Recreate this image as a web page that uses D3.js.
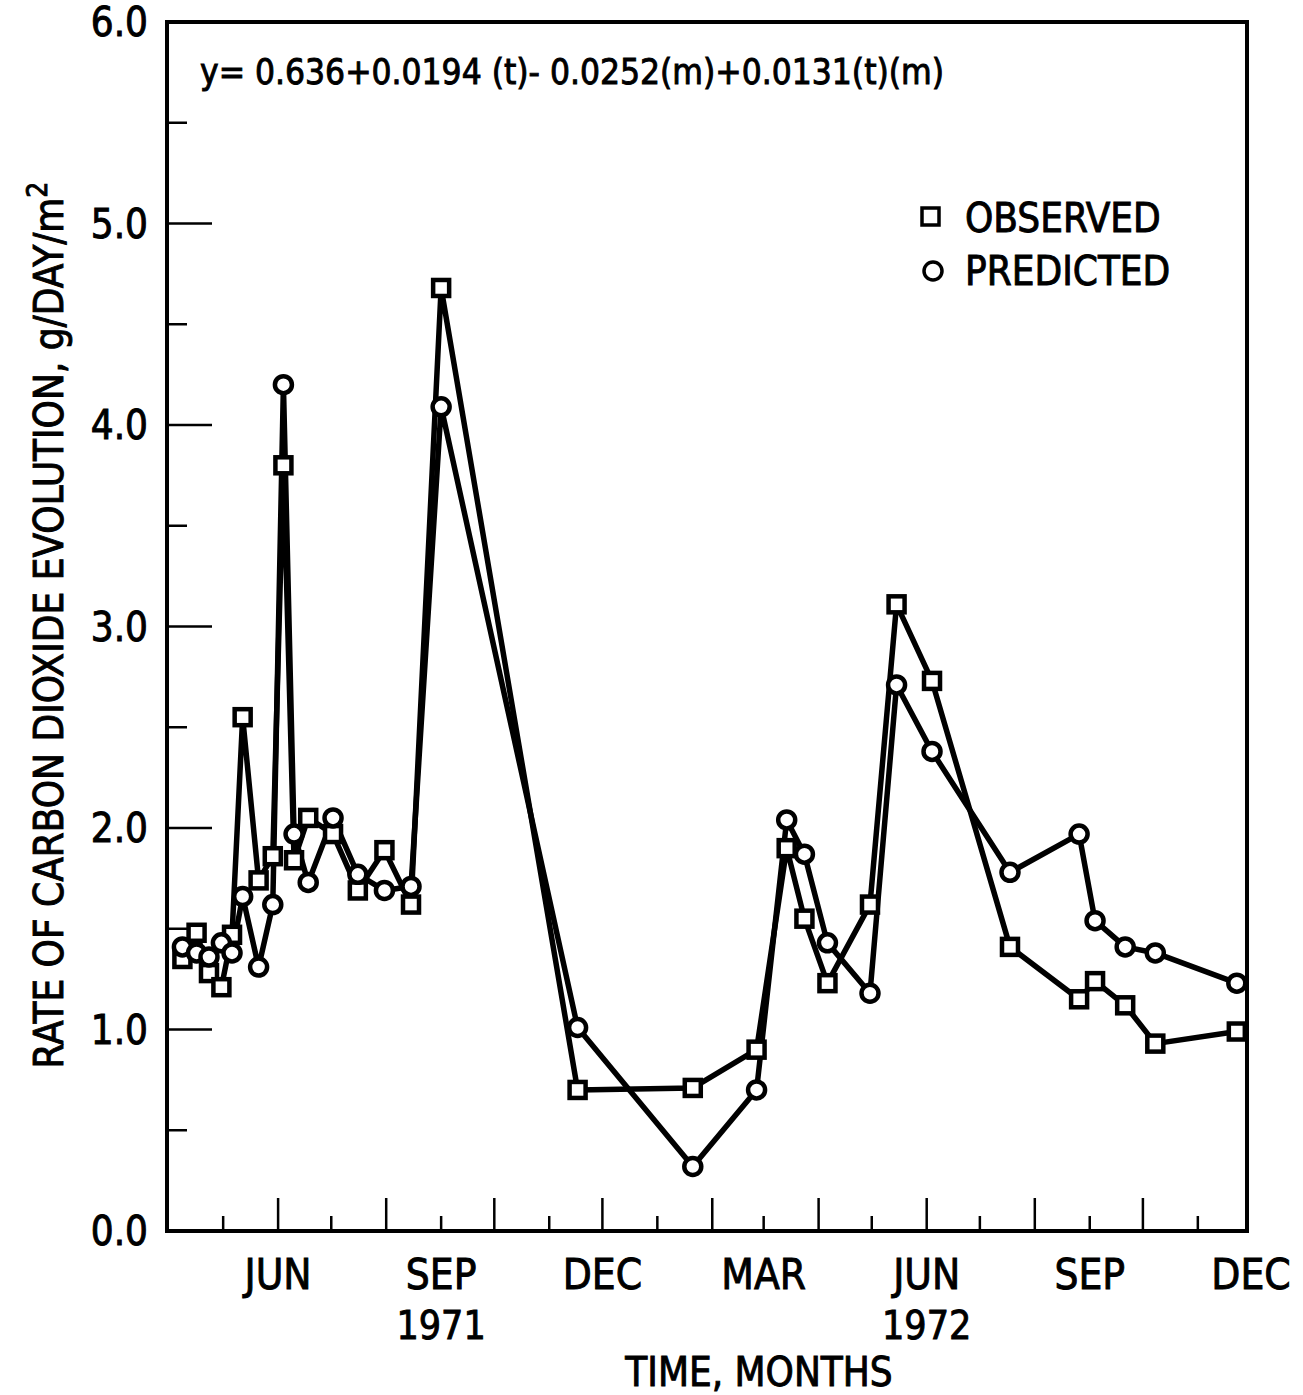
<!DOCTYPE html>
<html>
<head>
<meta charset="utf-8">
<script src="https://cdn.jsdelivr.net/npm/d3@7"></script>
<style>
  body { margin: 0; background: #fff; }
  svg text {
    font-family: "DejaVu Sans Condensed", "DejaVu Sans", sans-serif;
    font-stretch: condensed;
    fill: #000; stroke: #000; stroke-width: 0.9px;
  }
</style>
</head>
<body>
<svg id="chart" width="1303" height="1395"></svg>
<script>
// sampling dates, shared by both series
const sampleDates = [
  "1971-04-08", "1971-04-16", "1971-04-23", "1971-04-30", "1971-05-06", "1971-05-12",
  "1971-05-21", "1971-05-29", "1971-06-04", "1971-06-10", "1971-06-18", "1971-07-02",
  "1971-07-16", "1971-07-31", "1971-08-15", "1971-09-01", "1971-11-17", "1972-01-21",
  "1972-02-26", "1972-03-14", "1972-03-24", "1972-04-06", "1972-04-30", "1972-05-15",
  "1972-06-04", "1972-07-18", "1972-08-26", "1972-09-04", "1972-09-21", "1972-10-08",
  "1972-11-23"
];
const observed = [
  1.35, 1.48, 1.28, 1.21, 1.47, 2.55,
  1.74, 1.86, 3.80, 1.84, 2.05, 1.97,
  1.69, 1.89, 1.62, 4.68, 0.70, 0.71,
  0.90, 1.90, 1.55, 1.23, 1.62, 3.11,
  2.73, 1.41, 1.15, 1.24, 1.12, 0.93,
  0.99
];
const predicted = [
  1.41, 1.38, 1.36, 1.43, 1.38, 1.66,
  1.31, 1.62, 4.20, 1.97, 1.73, 2.05,
  1.77, 1.69, 1.71, 4.09, 1.01, 0.32,
  0.70, 2.04, 1.87, 1.43, 1.18, 2.71,
  2.38, 1.78, 1.97, 1.54, 1.41, 1.38,
  1.23
];
const monthLabels = [
  ["1971-06-01", "JUN"], ["1971-09-01", "SEP"], ["1971-12-01", "DEC"],
  ["1972-03-01", "MAR"], ["1972-06-01", "JUN"], ["1972-09-01", "SEP"], ["1972-12-01", "DEC"]
];
const yearLabels = [["1971-09-01", "1971"], ["1972-06-01", "1972"]];
const yTicks = [0, 1, 2, 3, 4, 5, 6];

const parse = d3.timeParse("%Y-%m-%d");
const svg = d3.select("#chart");
const plotLeft = 167, plotRight = 1247, plotTop = 22, plotBottom = 1231;

const x = d3.scaleTime()
  .domain([parse("1971-04-01"), parse("1972-12-01")])
  .range([170, 1251]);
const y = d3.scaleLinear().domain([0, 6]).range([plotBottom, plotTop]);

const obsData = sampleDates.map((d, i) => ({ date: parse(d), value: observed[i] }));
const predData = sampleDates.map((d, i) => ({ date: parse(d), value: predicted[i] }));

// month ticks, long every other month
const months = d3.timeMonth.range(parse("1971-05-01"), parse("1972-12-01"));
svg.append("g").selectAll("line")
  .data(months)
  .join("line")
  .attr("x1", d => x(d)).attr("x2", d => x(d))
  .attr("y1", plotBottom)
  .attr("y2", d => plotBottom - (d.getMonth() % 2 === 1 ? 33 : 15))
  .attr("stroke", "#000").attr("stroke-width", 2.5);

// y ticks, major and half steps
const yAll = d3.range(0.5, 6, 0.5);
svg.append("g").selectAll("line")
  .data(yAll)
  .join("line")
  .attr("x1", plotLeft)
  .attr("x2", d => plotLeft + (d % 1 === 0 ? 45 : 20))
  .attr("y1", d => y(d)).attr("y2", d => y(d))
  .attr("stroke", "#000").attr("stroke-width", 2.5);

// frame
svg.append("rect")
  .attr("x", plotLeft).attr("y", plotTop)
  .attr("width", plotRight - plotLeft).attr("height", plotBottom - plotTop)
  .attr("fill", "none").attr("stroke", "#000").attr("stroke-width", 4);

svg.append("g").selectAll("text")
  .data(yTicks)
  .join("text")
  .attr("x", 148)
  .attr("y", d => y(d) + 14)
  .attr("text-anchor", "end")
  .style("font-size", "40px")
  .text(d => d.toFixed(1));

svg.append("g").selectAll("text")
  .data(monthLabels)
  .join("text")
  .attr("x", d => x(parse(d[0])))
  .attr("y", 1289)
  .attr("text-anchor", "middle")
  .style("font-size", "42px")
  .text(d => d[1]);

svg.append("g").selectAll("text")
  .data(yearLabels)
  .join("text")
  .attr("x", d => x(parse(d[0])))
  .attr("y", 1339)
  .attr("text-anchor", "middle")
  .style("font-size", "39px")
  .text(d => d[1]);

svg.append("text")
  .attr("x", 759).attr("y", 1386)
  .attr("text-anchor", "middle")
  .style("font-size", "40px")
  .text("TIME, MONTHS");

svg.append("text")
  .attr("transform", "translate(63,625) rotate(-90)")
  .attr("text-anchor", "middle")
  .style("font-size", "40px")
  .html("RATE OF CARBON DIOXIDE EVOLUTION, g/DAY/m<tspan dy='-16' font-size='28px'>2</tspan>");

svg.append("text")
  .attr("x", 200).attr("y", 84)
  .style("font-size", "35px")
  .text("y= 0.636+0.0194 (t)- 0.0252(m)+0.0131(t)(m)");

// series lines
const line = d3.line().x(d => x(d.date)).y(d => y(d.value));
[predData, obsData].forEach(data => {
  svg.append("path")
    .datum(data)
    .attr("d", line)
    .attr("fill", "none")
    .attr("stroke", "#000")
    .attr("stroke-width", 5.5)
    .attr("stroke-linejoin", "round");
});

// markers
svg.append("g").selectAll("rect")
  .data(obsData)
  .join("rect")
  .attr("x", d => x(d.date) - 8).attr("y", d => y(d.value) - 8)
  .attr("width", 16).attr("height", 16)
  .attr("fill", "#fff").attr("stroke", "#000").attr("stroke-width", 4.5);

svg.append("g").selectAll("circle")
  .data(predData)
  .join("circle")
  .attr("cx", d => x(d.date)).attr("cy", d => y(d.value))
  .attr("r", 8.5)
  .attr("fill", "#fff").attr("stroke", "#000").attr("stroke-width", 4.5);

// legend
svg.append("rect")
  .attr("x", 922).attr("y", 208).attr("width", 17).attr("height", 17)
  .attr("fill", "#fff").attr("stroke", "#000").attr("stroke-width", 3.5);
svg.append("circle")
  .attr("cx", 933).attr("cy", 271).attr("r", 9)
  .attr("fill", "#fff").attr("stroke", "#000").attr("stroke-width", 3.5);
svg.append("text")
  .attr("x", 965).attr("y", 232)
  .style("font-size", "40px")
  .text("OBSERVED");
svg.append("text")
  .attr("x", 965).attr("y", 285)
  .style("font-size", "40px")
  .text("PREDICTED");
</script>
</body>
</html>
